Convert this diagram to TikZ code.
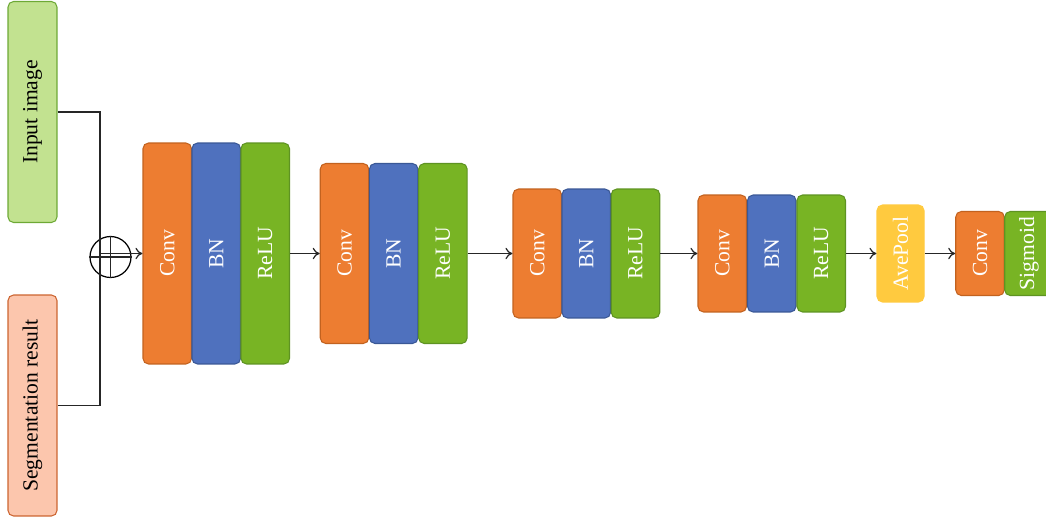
\documentclass[tikz,border=0pt]{standalone}
\usepackage{fontspec}
\setmainfont{Liberation Serif}
\usetikzlibrary{arrows.meta}

\definecolor{convfill}{HTML}{ED7D31}
\definecolor{convline}{HTML}{C2621F}
\definecolor{bnfill}{HTML}{4F71BE}
\definecolor{bnline}{HTML}{3A5896}
\definecolor{relufill}{HTML}{78B424}
\definecolor{reluline}{HTML}{5E9322}
\definecolor{imgfill}{HTML}{C2E290}
\definecolor{imgline}{HTML}{6DA935}
\definecolor{segfill}{HTML}{FCC6AD}
\definecolor{segline}{HTML}{CC6430}
\definecolor{poolfill}{HTML}{FFCA3F}

\tikzset{
  layer/.style={draw, rounded corners=0.11cm, line width=0.6pt, inner sep=0pt,
    text=white, font=\fontsize{12.3}{14}\selectfont, minimum width=0.97cm},
  conv/.style={layer, fill=convfill, draw=convline},
  bn/.style={layer, fill=bnfill, draw=bnline},
  relu/.style={layer, fill=relufill, draw=reluline},
  pool/.style={layer, fill=poolfill, draw=poolfill, minimum width=0.94cm},
  source/.style={draw, rounded corners=0.11cm, line width=0.6pt, inner sep=0pt,
    text=black, font=\fontsize{12.3}{14}\selectfont, minimum width=0.98cm, minimum height=4.42cm},
  wire/.style={line width=0.7pt, draw=black!85},
  flow/.style={wire, -{To[length=4pt, width=6.5pt]}},
}

\begin{document}
\begin{tikzpicture}[x=0.02cm, y=-0.02cm]
  \clip (0,0) rectangle (1046,521);

  % inputs
  \node[source, fill=imgfill, draw=imgline] (img) at (32.5,112) {\rotatebox{90}{Input image}};
  \node[source, fill=segfill, draw=segline] (seg) at (32.5,405.5) {\rotatebox{90}{Segmentation result}};

  % element-wise sum
  \node[draw, circle, line width=0.7pt, minimum size=0.82cm, inner sep=0pt] (sum) at (110.5,257) {};
  \draw[wire] (sum.north) -- (sum.south) (sum.west) -- (sum.east);
  \coordinate (junc) at (100,253.5);
  \draw[wire] (img.east) -| (junc) |- (seg.east);

  % stage 1
  \node[conv, minimum height=4.42cm] (c1) at (167.25,253.5) {\rotatebox{90}{Conv}};
  \node[bn,   minimum height=4.42cm] (b1) at (216.25,253.5) {\rotatebox{90}{BN}};
  \node[relu, minimum height=4.42cm] (r1) at (265.25,253.5) {\rotatebox{90}{ReLU}};

  % stage 2
  \node[conv, minimum height=3.6cm] (c2) at (344.5,253.5) {\rotatebox{90}{Conv}};
  \node[bn,   minimum height=3.6cm] (b2) at (393.7,253.5) {\rotatebox{90}{BN}};
  \node[relu, minimum height=3.6cm] (r2) at (442.9,253.5) {\rotatebox{90}{ReLU}};

  % stage 3
  \node[conv, minimum height=2.58cm] (c3) at (537.25,253.5) {\rotatebox{90}{Conv}};
  \node[bn,   minimum height=2.58cm] (b3) at (586.25,253.5) {\rotatebox{90}{BN}};
  \node[relu, minimum height=2.58cm] (r3) at (635.5,253.5) {\rotatebox{90}{ReLU}};

  % stage 4
  \node[conv, minimum height=2.34cm] (c4) at (722.25,253.5) {\rotatebox{90}{Conv}};
  \node[bn,   minimum height=2.34cm] (b4) at (771.75,253.5) {\rotatebox{90}{BN}};
  \node[relu, minimum height=2.34cm] (r4) at (821.25,253.5) {\rotatebox{90}{ReLU}};

  % pooling and output head
  \node[pool, minimum height=1.94cm] (p) at (900.5,253.5) {\rotatebox{90}{AvePool}};
  \node[conv, minimum height=1.68cm] (c5) at (980,253.5) {\rotatebox{90}{Conv}};
  \node[relu, minimum height=1.68cm] (s5) at (1029,253.5) {\rotatebox{90}{Sigmoid}};

  % data flow
  \draw[flow] (junc) -- (c1.west);
  \draw[flow] (r1.east) -- (c2.west);
  \draw[flow] (r2.east) -- (c3.west);
  \draw[flow] (r3.east) -- (c4.west);
  \draw[flow] (r4.east) -- (p.west);
  \draw[flow] (p.east) -- (c5.west);
\end{tikzpicture}
\end{document}
